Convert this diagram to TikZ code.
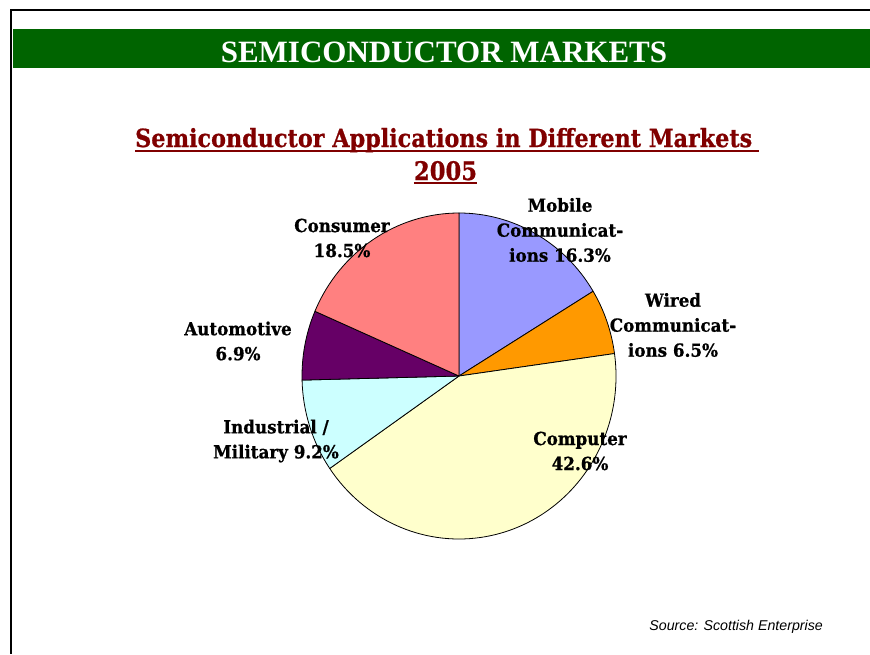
\documentclass[tikz,border=0pt]{standalone}
\usepackage{fontspec}
\setmainfont{DejaVu Serif}
\newfontfamily\lblfont{DejaVu Serif}[FakeStretch=0.93, FakeBold=0.8]
\newfontfamily\ttlfont{DejaVu Serif}[FakeBold=0.8]
\newfontfamily\banfont{Liberation Serif}
\newfontfamily\srcfont{Liberation Sans}
\definecolor{bangreen}{RGB}{0,100,0}
\definecolor{ttlred}{RGB}{128,0,0}
\definecolor{cmobile}{RGB}{153,153,255}
\definecolor{cwired}{RGB}{255,153,0}
\definecolor{ccomp}{RGB}{255,255,204}
\definecolor{cind}{RGB}{204,255,255}
\definecolor{cauto}{RGB}{102,0,102}
\definecolor{ccons}{RGB}{255,128,128}
\tikzset{
  lbl/.style={inner sep=0pt, align=center, font={\lblfont\bfseries\fontsize{18}{25}\selectfont}},
  slice/.style={draw=black, line width=0.8pt, line join=round},
}
\newcommand{\pieslice}[3]{%
  \filldraw[slice, fill=#3] (0,0) -- (#1:157 and 163) arc[start angle=#1, end angle=#2, x radius=157, y radius=163] -- cycle;}
\begin{document}
\begin{tikzpicture}[x=1pt,y=-1pt]
\useasboundingbox (0,0) rectangle (870,654);
\fill[white] (0,0) rectangle (870,654);
% frame
\draw[line width=2pt] (870,10) -- (11,10) -- (11,654);
% banner
\fill[bangreen] (13,29) rectangle (870,68);
\node[inner sep=0pt, anchor=base, text=white, font={\banfont\bfseries\fontsize{31}{31}\selectfont}] (banner) at (444,62) {SEMICONDUCTOR MARKETS};
% chart title
\node[inner sep=0pt, anchor=base west, text=ttlred, font={\ttlfont\bfseries}] (t1) at (135,147) {\resizebox{617pt}{19pt}{Semiconductor Applications in Different Markets}};
\draw[ttlred, line width=2pt] ([yshift=-4pt]t1.base west) -- ([xshift=7pt,yshift=-4pt]t1.base east);
\node[inner sep=0pt, anchor=base, text=ttlred, font={\ttlfont\bfseries}] (t2) at (445.5,180) {\resizebox{63pt}{19pt}{2005}};
\draw[ttlred, line width=2pt] ([yshift=-3pt]t2.base west) -- ([yshift=-3pt]t2.base east);
% pie
\begin{scope}[shift={(459,376)}, yscale=-1]
\pieslice{90}{31.32}{cmobile}
\pieslice{31.32}{7.92}{cwired}
\pieslice{7.92}{-145.44}{ccomp}
\pieslice{-145.44}{-178.56}{cind}
\pieslice{-178.56}{-203.4}{cauto}
\pieslice{-203.4}{-270}{ccons}
\end{scope}
% labels
\node[lbl] (mobile) at (560,230) {Mobile\\Communicat-\\ions 16.3\%};
\node[lbl] (wired) at (673,325) {Wired\\Communicat-\\ions 6.5\%};
\node[lbl] (consumer) at (342,238) {Consumer\\18.5\%};
\node[lbl] (auto) at (238,341) {Automotive\\6.9\%};
\node[lbl] (indus) at (276,441) {Industrial /\\Military 9.2\%};
\node[lbl] (comp) at (580,451) {Computer\\42.6\%};
% source
\node[inner sep=0pt, anchor=base east, font={\srcfont\itshape\fontsize{14.2}{14.2}\selectfont}] (src) at (823,630) {Source: Scottish Enterprise};
\end{tikzpicture}
\end{document}
